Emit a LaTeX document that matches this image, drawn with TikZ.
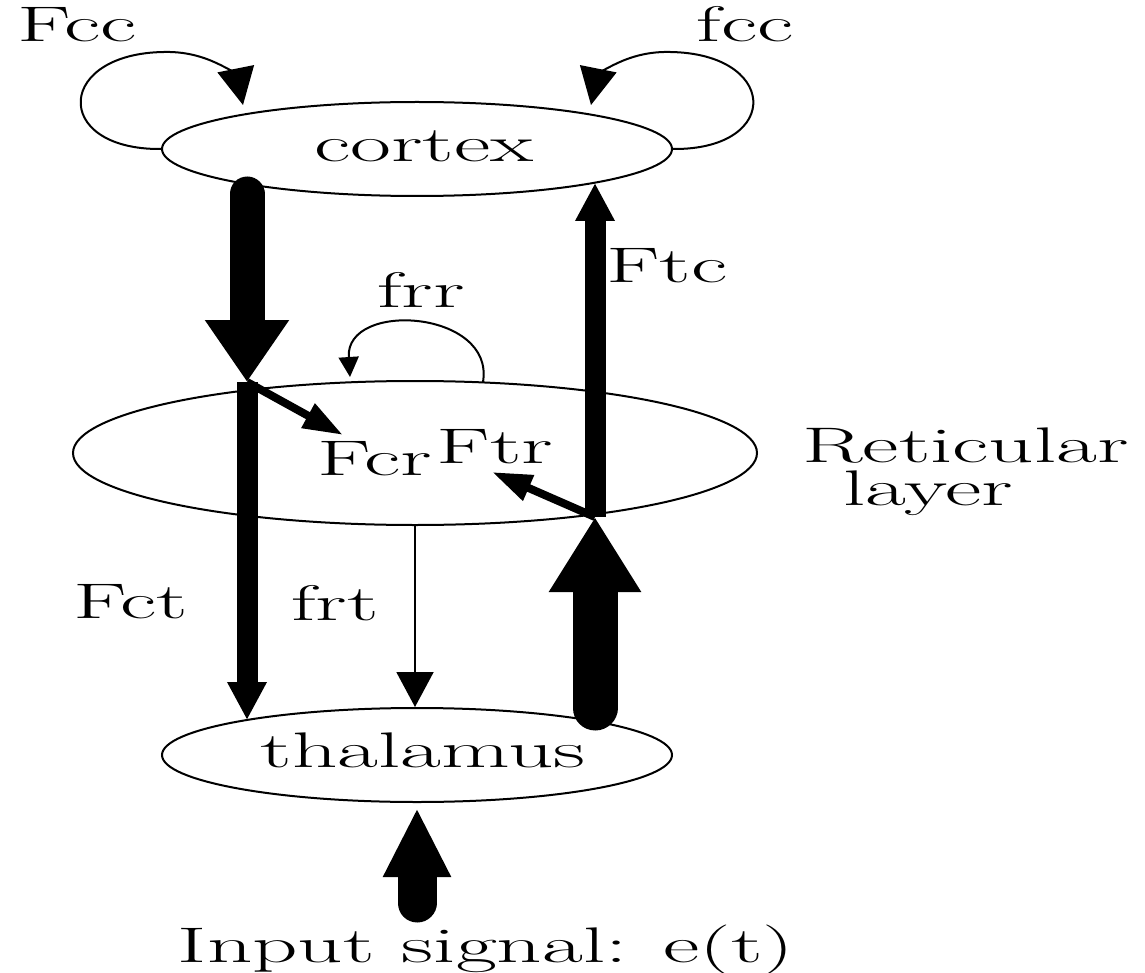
\documentclass[tikz,border=0pt]{standalone}
\usetikzlibrary{arrows.meta,shapes.geometric}
\newcommand{\stretchtxt}[1]{\scalebox{1.78}[1]{#1}}
\begin{document}
\begin{tikzpicture}[x=0.5pt,y=-0.5pt,
  region/.style={draw, ellipse, line width=1pt, inner sep=0pt, minimum width=255pt, minimum height=47pt},
  lbl/.style={anchor=base, inner sep=0pt, font=\fontsize{25}{29}\selectfont},
  thinline/.style={line width=1pt},
  loopline/.style={line width=1pt, -{Triangle[width=18.5pt,length=18.5pt]}},
  smallloop/.style={line width=1pt, -{Triangle[width=10pt,length=10pt]}},
  sidearrow/.style={line width=4pt, -{Triangle[width=13pt,length=20pt]}},
  shaft/.style={line width=10.5pt, -{Triangle[width=18.5pt,length=19pt]}},
  bigshaft/.style={line width=17.5pt, line cap=round, -{Triangle[width=40pt,length=31pt]}},
  hugeshaft/.style={line width=22.5pt, line cap=round, -{Triangle[width=43.5pt,length=37.5pt]}},
  inputshaft/.style={line width=19.5pt, line cap=round, -{Triangle[width=31.5pt,length=34.5pt]}}
]
\useasboundingbox (0,0) rectangle (1145,973);

% regions
\node[region] (cortex) at (417,149) {};
\node[region, minimum width=342pt, minimum height=72pt] (ret) at (415,453) {};
\node[region] (thal) at (417,755) {};

% labels
\node[lbl] (tcortex) at (424,162) {\stretchtxt{cortex}};
\node[lbl] (tthal) at (423,767) {\stretchtxt{thalamus}};
\node[inner sep=0pt, anchor=north west, align=left, font=\fontsize{25}{21.5}\selectfont] (tret) at (802,427)
  {\stretchtxt{Reticular}\\\hspace*{20.5pt}\stretchtxt{layer}};
\node[lbl] (tFcc) at (77,42) {\stretchtxt{Fcc}};
\node[lbl] (tfcc) at (745,42) {\stretchtxt{fcc}};
\node[lbl] (tFtc) at (667,283) {\stretchtxt{Ftc}};
\node[lbl] (tfrr) at (421,307) {\stretchtxt{frr}};
\node[lbl] (tFcr) at (375,475) {\stretchtxt{Fcr}};
\node[lbl] (tFtr) at (495,463) {\stretchtxt{Ftr}};
\node[lbl] (tFct) at (131,618) {\stretchtxt{Fct}};
\node[lbl] (tfrt) at (335,620) {\stretchtxt{frt}};
\node[lbl] (tinput) at (486,962) {\stretchtxt{Input signal: e(t)}};

% junction coordinates
\coordinate (cL) at (247,194);
\coordinate (J1) at (247,382);
\coordinate (tL) at (247,720);
\coordinate (tR) at (595,708);
\coordinate (J2) at (595,517);
\coordinate (cR) at (595,183);
\coordinate (FcrEnd) at (343,435);
\coordinate (FtrEnd) at (492,472);
\coordinate (frrStart) at (483,382);
\coordinate (frrEnd) at (350,377);
\coordinate (FccTip) at (243,105);
\coordinate (fccTip) at (591,105);
\coordinate (inBase) at (417,903);
\coordinate (inTip) at (417,808);

% self loops
\draw[loopline] (cortex.west) .. controls (50,150) and (55,50) .. (170,52)
   .. controls (215,53) and (238,80) .. (FccTip);
\draw[loopline] (cortex.east) .. controls (784,150) and (779,50) .. (664,52)
   .. controls (619,53) and (596,80) .. (fccTip);
\draw[smallloop] (frrStart) .. controls (495,310) and (345,300) .. (frrEnd);

% reticular to thalamus
\draw[thinline, -{Triangle[width=18.5pt,length=17.5pt]}] (ret.south) -- (ret.south |- thal.north);

% cortex to thalamus (left)
\draw[bigshaft] (cL) -- (J1);
\draw[shaft] (J1) -- (tL);
\draw[sidearrow] (J1) -- (FcrEnd);

% thalamus to cortex (right)
\draw[hugeshaft] (tR) -- (J2);
\draw[shaft] (J2) -- (cR);
\draw[sidearrow] (J2) -- (FtrEnd);

% input
\draw[inputshaft] (inBase) -- (inTip);
\end{tikzpicture}
\end{document}
